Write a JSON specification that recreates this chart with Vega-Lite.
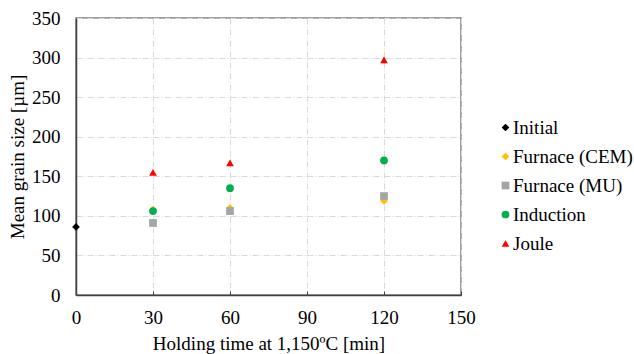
{
  "$schema": "https://vega.github.io/schema/vega-lite/v6.json",
  "width": 385,
  "height": 277,
  "autosize": {"type": "none"},
  "padding": {"left": 76, "top": 18, "right": 173, "bottom": 59},
  "background": "white",
  "config": {
    "font": "Liberation Serif",
    "view": {"stroke": "#808080", "strokeWidth": 1.5},
    "axis": {
      "labelFont": "Liberation Serif",
      "titleFont": "Liberation Serif",
      "labelFontSize": 19,
      "titleFontSize": 19,
      "titleFontWeight": "normal",
      "labelColor": "#000000",
      "titleColor": "#000000",
      "gridColor": "#d9d9d9",
      "gridDash": [6, 2, 1, 2],
      "gridWidth": 1,
      "domainColor": "#404040",
      "domainWidth": 1.5,
      "labelFlush": false
    },
    "legend": {
      "labelFont": "Liberation Serif",
      "labelFontSize": 19,
      "labelColor": "#000000"
    }
  },
  "data": {
    "values": [
      {"series": "Initial", "time": 0, "size": 86},
      {"series": "Furnace (CEM)", "time": 30, "size": 108},
      {"series": "Furnace (CEM)", "time": 60, "size": 110},
      {"series": "Furnace (CEM)", "time": 120, "size": 119},
      {"series": "Furnace (MU)", "time": 30, "size": 91},
      {"series": "Furnace (MU)", "time": 60, "size": 106},
      {"series": "Furnace (MU)", "time": 120, "size": 125},
      {"series": "Induction", "time": 30, "size": 106},
      {"series": "Induction", "time": 60, "size": 135},
      {"series": "Induction", "time": 120, "size": 170},
      {"series": "Joule", "time": 30, "size": 155},
      {"series": "Joule", "time": 60, "size": 167},
      {"series": "Joule", "time": 120, "size": 297}
    ]
  },
  "mark": {"type": "point", "filled": true, "opacity": 1},
  "encoding": {
    "x": {
      "field": "time",
      "type": "quantitative",
      "title": "Holding time at 1,150ºC [min]",
      "scale": {"domain": [0, 150], "nice": false},
      "axis": {
        "values": [0, 30, 60, 90, 120, 150],
        "tickSize": -4,
        "tickColor": "#404040",
        "labelPadding": 17,
        "titlePadding": 7
      }
    },
    "y": {
      "field": "size",
      "type": "quantitative",
      "title": "Mean grain size [µm]",
      "scale": {"domain": [0, 350], "nice": false},
      "axis": {
        "values": [0, 50, 100, 150, 200, 250, 300, 350],
        "ticks": false,
        "labelPadding": 16,
        "titlePadding": 4
      }
    },
    "color": {
      "field": "series",
      "type": "nominal",
      "scale": {
        "domain": ["Initial", "Furnace (CEM)", "Furnace (MU)", "Induction", "Joule"],
        "range": ["#000000", "#FFC000", "#A5A5A5", "#00B050", "#FF0000"]
      },
      "legend": {
        "title": null,
        "orient": "none",
        "legendX": 420,
        "legendY": 100,
        "rowPadding": 9,
        "symbolSize": 60,
        "labelOffset": -2
      }
    },
    "shape": {
      "field": "series",
      "type": "nominal",
      "scale": {
        "domain": ["Initial", "Furnace (CEM)", "Furnace (MU)", "Induction", "Joule"],
        "range": ["diamond", "diamond", "square", "circle", "triangle-up"]
      }
    },
    "size": {"value": 60}
  }
}
